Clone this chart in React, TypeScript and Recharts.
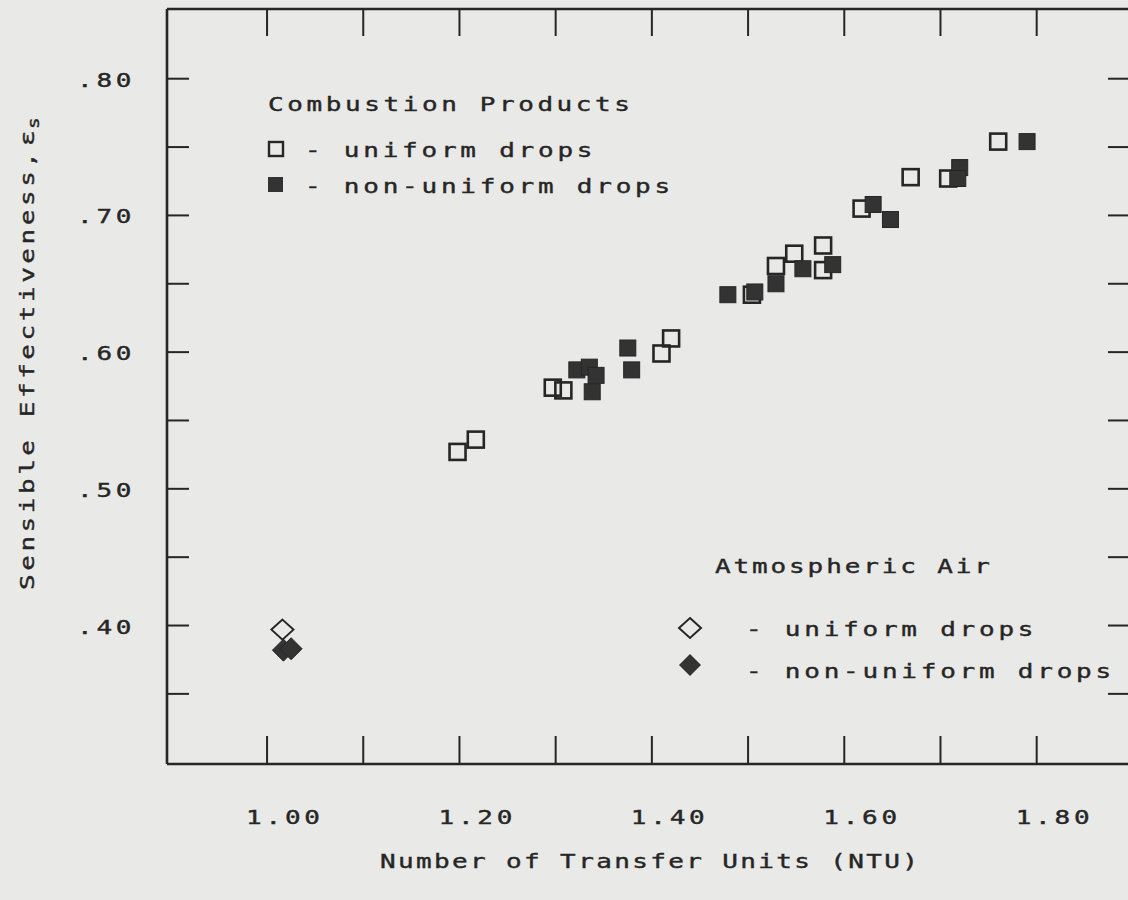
import React from 'react';
import { ScatterChart, Scatter, XAxis, YAxis } from 'recharts';

// combustion products, uniform drops (open squares)
const uniformNtu = [1.198, 1.217, 1.297, 1.308, 1.41, 1.42, 1.504, 1.529, 1.548, 1.578, 1.578, 1.618, 1.669, 1.708, 1.76];
const uniformEff = [0.527, 0.536, 0.574, 0.572, 0.599, 0.61, 0.642, 0.663, 0.672, 0.678, 0.66, 0.705, 0.728, 0.727, 0.754];

// combustion products, non-uniform drops (filled squares)
const nonUniformNtu = [1.322, 1.335, 1.342, 1.338, 1.375, 1.379, 1.479, 1.507, 1.529, 1.557, 1.588, 1.63, 1.648, 1.72, 1.718, 1.79];
const nonUniformEff = [0.587, 0.589, 0.583, 0.571, 0.603, 0.587, 0.642, 0.644, 0.65, 0.661, 0.664, 0.708, 0.697, 0.735, 0.727, 0.754];

// atmospheric air
const airUniformNtu = [1.016];
const airUniformEff = [0.397];
const airNonUniformNtu = [1.017, 1.025];
const airNonUniformEff = [0.382, 0.383];

const xTicks = [1.0, 1.1, 1.2, 1.3, 1.4, 1.5, 1.6, 1.7, 1.8];
const xLabelTicks = [1.0, 1.2, 1.4, 1.6, 1.8];
const yTicks = [0.35, 0.4, 0.45, 0.5, 0.55, 0.6, 0.65, 0.7, 0.75, 0.8];
const yLabelTicks = [0.4, 0.5, 0.6, 0.7, 0.8];

const toPoints = (xs: number[], ys: number[]) => xs.map((x, i) => ({ ntu: x, eff: ys[i] }));

const INK = '#262626';
const PAPER = '#e9e9e7';
const FONT = '"DejaVu Sans Mono", monospace';
const SX = 1.3; // plotter lettering is wider than the font
const LS = 2.9; // letter spacing before stretch

const has = (list: number[], v: number) => list.some((t) => Math.abs(t - v) < 1e-6);

// stretched monospaced text, x/y/len in screen pixels
const Txt = ({ x, y, anchor = 'start', size = 20, len, children }: any) => (
  <text
    transform={`translate(${x},${y}) scale(${SX},1)`}
    fontFamily={FONT}
    fontSize={size}
    letterSpacing={len ? undefined : LS}
    textLength={len ? len / SX : undefined}
    lengthAdjust="spacing"
    textAnchor={anchor}
    fill={INK}
    stroke={INK}
    strokeWidth={0.4}
  >
    {children}
  </text>
);

const BottomTick = (props: any) => {
  const { x, y, payload } = props;
  return (
    <g>
      <line x1={x} y1={y} x2={x} y2={y - 28} stroke={INK} strokeWidth={2} />
      {has(xLabelTicks, payload.value) && <Txt x={x - 21} y={y + 60}>{payload.value.toFixed(2)}</Txt>}
    </g>
  );
};

const TopTick = (props: any) => {
  const { x, y } = props;
  return <line x1={x} y1={y} x2={x} y2={y + 27} stroke={INK} strokeWidth={2} />;
};

const LeftTick = (props: any) => {
  const { x, y, payload } = props;
  return (
    <g>
      <line x1={x} y1={y} x2={x + 22} y2={y} stroke={INK} strokeWidth={2} />
      {has(yLabelTicks, payload.value) && (
        <Txt x={x - 90} y={y + 8}>{payload.value.toFixed(2).replace(/^0/, '')}</Txt>
      )}
    </g>
  );
};

const RightTick = (props: any) => {
  const { x, y } = props;
  return <line x1={x} y1={y} x2={x - 22} y2={y} stroke={INK} strokeWidth={2} />;
};

const OpenSquare = ({ cx, cy }: any) => (
  <rect x={cx - 8} y={cy - 8} width={16} height={16} fill="none" stroke={INK} strokeWidth={2.6} />
);
const FilledSquare = ({ cx, cy }: any) => (
  <rect x={cx - 8} y={cy - 8} width={16} height={16} fill="#333" stroke={INK} strokeWidth={1} />
);
const OpenDiamond = ({ cx, cy }: any) => (
  <path d={`M${cx},${cy - 10} L${cx + 11},${cy} L${cx},${cy + 10} L${cx - 11},${cy} Z`} fill="none" stroke={INK} strokeWidth={2} />
);
const FilledDiamond = ({ cx, cy }: any) => (
  <path d={`M${cx},${cy - 11} L${cx + 11},${cy} L${cx},${cy + 11} L${cx - 11},${cy} Z`} fill="#333" stroke={INK} strokeWidth={1} />
);

const axisLine = { stroke: INK, strokeWidth: 2.6 };

export default function App() {
  return (
    <div style={{ position: 'relative', width: 1128, height: 900, overflow: 'hidden', background: PAPER }}>
      <style>{'body{margin:0;}'}</style>
      <ScatterChart width={1132} height={900} margin={{ top: 8, right: 1, bottom: 106, left: 166 }}>
        <XAxis
          xAxisId="b"
          type="number"
          dataKey="ntu"
          domain={[0.896, 1.897]}
          allowDataOverflow
          ticks={xTicks}
          height={30}
          tickSize={0}
          tickMargin={0}
          tickLine={false}
          axisLine={axisLine}
          tick={<BottomTick />}
          interval={0}
        />
        <XAxis
          xAxisId="t"
          orientation="top"
          type="number"
          dataKey="ntu"
          domain={[0.896, 1.897]}
          allowDataOverflow
          ticks={xTicks}
          height={1}
          tickSize={0}
          tickMargin={0}
          tickLine={false}
          axisLine={axisLine}
          tick={<TopTick />}
          interval={0}
        />
        <YAxis
          yAxisId="l"
          type="number"
          dataKey="eff"
          domain={[0.2987, 0.851]}
          allowDataOverflow
          ticks={yTicks}
          width={1}
          tickSize={0}
          tickMargin={0}
          tickLine={false}
          axisLine={axisLine}
          tick={<LeftTick />}
          interval={0}
        />
        <YAxis
          yAxisId="r"
          orientation="right"
          type="number"
          dataKey="eff"
          domain={[0.2987, 0.851]}
          allowDataOverflow
          ticks={yTicks}
          width={1}
          tickSize={0}
          tickMargin={0}
          tickLine={false}
          axisLine={axisLine}
          tick={<RightTick />}
          interval={0}
        />
        <Scatter xAxisId="b" yAxisId="l" data={toPoints(uniformNtu, uniformEff)} shape={<OpenSquare />} isAnimationActive={false} />
        <Scatter xAxisId="b" yAxisId="l" data={toPoints(nonUniformNtu, nonUniformEff)} shape={<FilledSquare />} isAnimationActive={false} />
        <Scatter xAxisId="b" yAxisId="l" data={toPoints(airUniformNtu, airUniformEff)} shape={<OpenDiamond />} isAnimationActive={false} />
        <Scatter xAxisId="b" yAxisId="l" data={toPoints(airNonUniformNtu, airNonUniformEff)} shape={<FilledDiamond />} isAnimationActive={false} />
      </ScatterChart>

      <svg width={1128} height={900} style={{ position: 'absolute', left: 0, top: 0, pointerEvents: 'none' }}>
        {/* legend: combustion products */}
        <Txt x={268} y={111} len={362}>Combustion Products</Txt>
        <rect x={269} y={142} width={14} height={14} fill="none" stroke={INK} strokeWidth={2.4} />
        <Txt x={305} y={157}>- uniform drops</Txt>
        <rect x={268} y={177} width={15} height={15} fill="#333" />
        <Txt x={305} y={193}>- non-uniform drops</Txt>

        {/* legend: atmospheric air */}
        <Txt x={715} y={573} len={275}>Atmospheric Air</Txt>
        <path d="M690,618 L701,628 L690,638 L679,628 Z" fill="none" stroke={INK} strokeWidth={2} />
        <Txt x={746} y={636}>- uniform drops</Txt>
        <path d="M690,654 L701,665 L690,676 L679,665 Z" fill="#333" />
        <Txt x={746} y={678}>- non-uniform drops</Txt>

        {/* axis titles */}
        <Txt x={380} y={868} len={538}>Number of Transfer Units (NTU)</Txt>
        <g transform="translate(34,590) rotate(-90)">
          <Txt x={0} y={0} len={438}>Sensible Effectiveness,</Txt>
          <Txt x={444} y={0}>ε</Txt>
          <Txt x={461} y={5} size={15}>s</Txt>
        </g>
      </svg>
    </div>
  );
}
